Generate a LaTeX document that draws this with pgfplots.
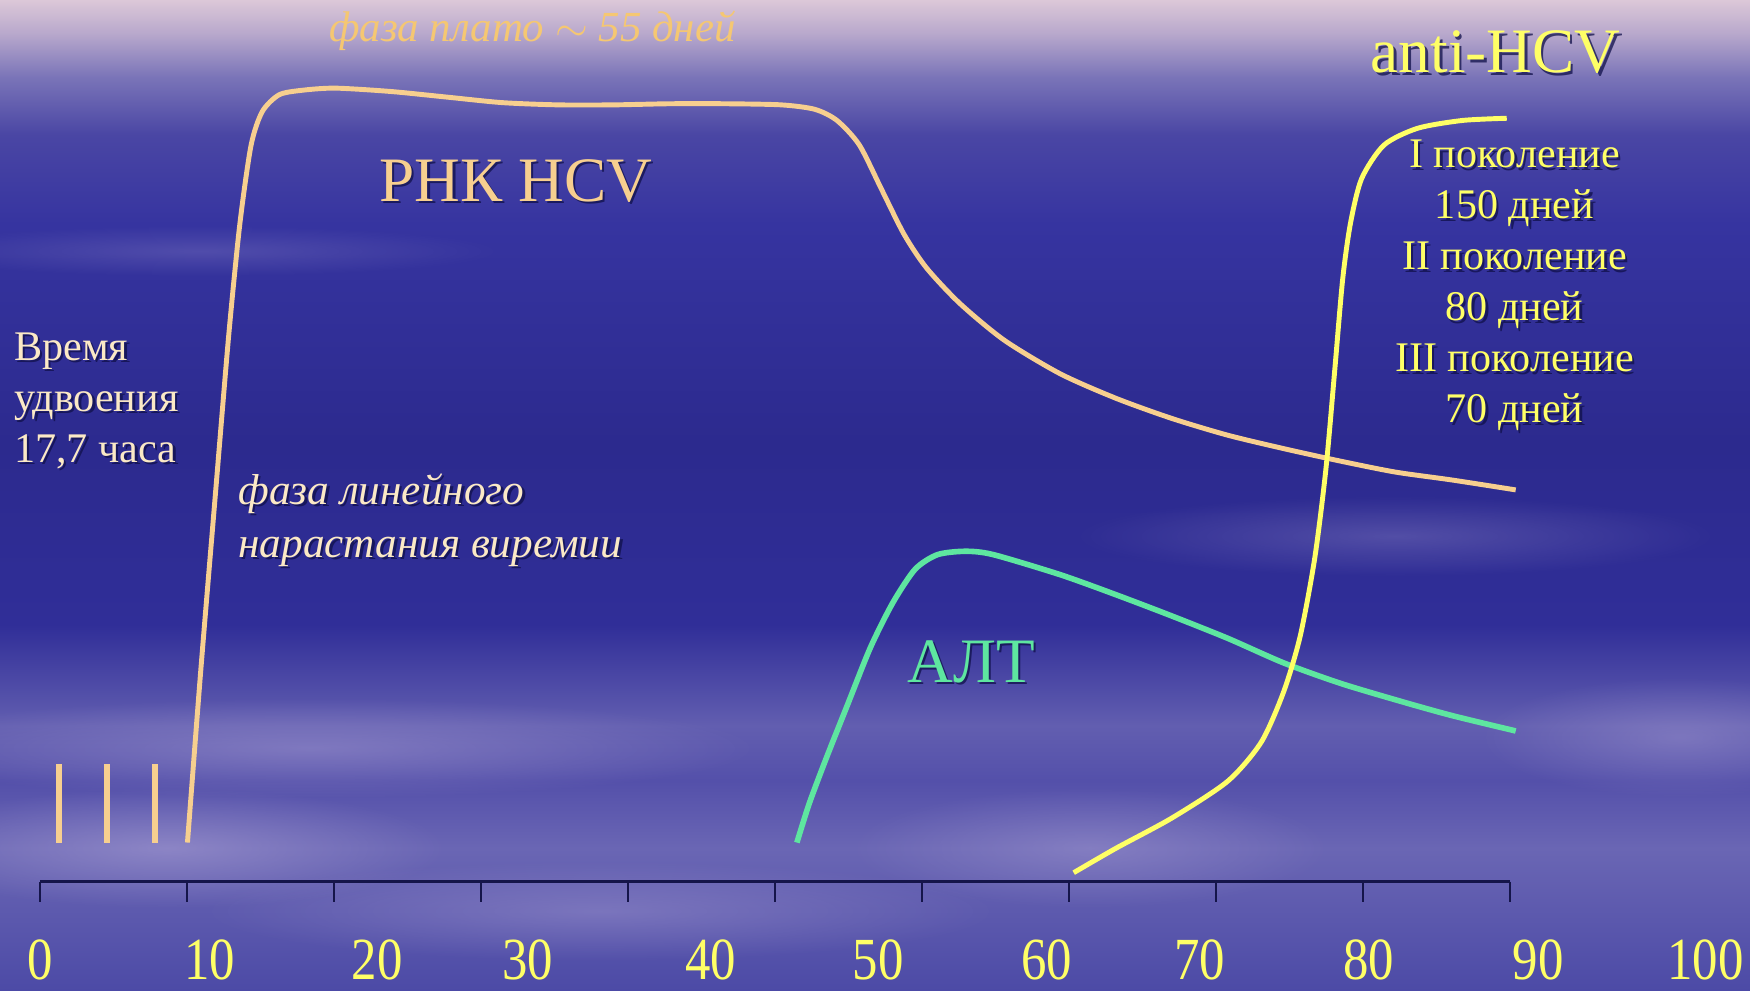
\documentclass[border=0pt]{standalone}
\usepackage{fontspec}
\setmainfont{Liberation Serif}
\usepackage{pgfplots}
\pgfplotsset{compat=1.18}
\usetikzlibrary{fadings}

\definecolor{rna}{HTML}{F7CF8F}
\definecolor{alt}{HTML}{5EE6A0}
\definecolor{anti}{HTML}{FFFF66}
\definecolor{navy}{HTML}{15154A}
\definecolor{plato}{HTML}{F5C772}
\definecolor{cream}{HTML}{FBE9C6}
\definecolor{cloud}{HTML}{C0B4E0}
\definecolor{shadow}{HTML}{10104A}

\definecolor{skyA}{HTML}{4C4AA6}
\definecolor{skyB}{HTML}{6A66B4}
\definecolor{skyC}{HTML}{5450AA}
\definecolor{skyD}{HTML}{625EB0}
\definecolor{skyE}{HTML}{302E98}
\definecolor{skyF}{HTML}{2C2A8E}
\definecolor{skyG}{HTML}{3634A0}
\definecolor{skyH}{HTML}{4A46A4}
\definecolor{skyI}{HTML}{7A74B8}
\definecolor{skyJ}{HTML}{B8A8CC}
\definecolor{skyK}{HTML}{DCC8D8}

% sky: bottom (25bp) to top (75bp)
\pgfdeclareverticalshading{sky}{100bp}{
  color(0bp)=(skyA);
  color(25bp)=(skyA);
  color(32.2bp)=(skyB);
  color(35.6bp)=(skyC);
  color(38.4bp)=(skyD);
  color(43.5bp)=(skyE);
  color(52.5bp)=(skyF);
  color(63.7bp)=(skyG);
  color(68.2bp)=(skyH);
  color(71.1bp)=(skyI);
  color(73.3bp)=(skyJ);
  color(75bp)=(skyK);
  color(100bp)=(skyK)}

\tikzfading[name=soft, inner color=transparent!0, outer color=transparent!100]

% text with a dark drop shadow
\newcommand\stext[3]{%
  \node[#1, text=shadow, opacity=0.75, xshift=0.7pt, yshift=-0.7pt] at (#2) {#3};
  \node[#1] at (#2) {#3};}

\begin{document}
\begin{tikzpicture}
\useasboundingbox (0,0) rectangle (175mm,99.1mm);
\shade[shading=sky] (0,0) rectangle (175mm,99.1mm);
% soft clouds
\foreach \cx/\cy/\rx/\ry/\op in {31/24.3/45/5/0.35, 16.7/14.3/28/6/0.4, 109/14.3/24/6/0.3,
    139.5/45.5/32/4/0.25, 168/25.4/20/6/0.3, 20/74/30/2.5/0.2, 60/8/40/5/0.3} {
  \fill[cloud, opacity=\op, path fading=soft]
    (\cx mm,\cy mm) ellipse ({\rx mm} and {\ry mm});
}

\begin{axis}[
    at={(0,0)}, anchor=south west,
    scale only axis, width=175mm, height=99.1mm,
    xmin=-2.733, xmax=116.32, ymin=-98, ymax=790,
    axis line style={draw=none},
    tick style={draw=none}, major tick length=0pt,
    ytick=\empty,
    xtick={0,11.54,22.93,33.18,45.63,57.02,68.49,78.89,90.36,101.90,113.29},
    xticklabels={0,10,20,30,40,50,60,70,80,90,100},
    xticklabel style={anchor=center, yshift=3.1mm, xscale=0.85, inner sep=0pt,
        font=\fontsize{17}{17}\selectfont, text=anti},
    clip=false,
]
% axis line and its ticks
\addplot[navy, line width=0.7pt] coordinates {(0,0) (100,0)};
\addplot[ycomb, navy, line width=0.4pt, mark=none] coordinates {
  (0,-18) (10,-18) (20,-18) (30,-18) (40,-18) (50,-18)
  (60,-18) (70,-18) (80,-18) (90,-18) (100,-18)};

% doubling marks
\addplot[rna, line width=1.6pt] coordinates {(1.29,35) (1.29,105)};
\addplot[rna, line width=1.6pt] coordinates {(4.56,35) (4.56,105)};
\addplot[rna, line width=1.6pt] coordinates {(7.82,35) (7.82,105)};

% RNA HCV
\addplot[rna, line width=1.4pt, smooth, tension=0.45] coordinates {
  (10.02,35) (10.93,190) (11.92,347) (12.83,490) (13.59,590) (14.35,660)
  (15.11,690) (16.25,705) (17.77,709) (20.05,711) (23.84,708) (27.64,703)
  (31.44,698) (35.23,696) (39.03,696) (42.82,697) (46.62,697) (50.42,696)
  (52.70,692) (54.21,682) (55.73,660) (57.25,620) (58.77,580) (60.29,550)
  (62.57,518) (65.60,485) (69.40,455) (73.20,433) (76.99,415) (80.79,400)
  (84.59,388) (88.38,377) (92.18,367) (95.98,360) (100.38,351)};

% ALT
\addplot[alt, line width=1.6pt, smooth, tension=0.45] coordinates {
  (51.48,35) (52.32,70) (53.46,110) (54.97,160) (56.49,210) (58.01,250)
  (59.53,280) (61.05,293) (62.95,296) (64.84,293) (69.40,275) (73.20,257)
  (76.99,238) (80.79,218) (84.59,196) (88.38,178) (92.18,163) (95.98,149)
  (100.38,135)};

% anti-HCV
\addplot[anti, line width=1.4pt, smooth, tension=0.45] coordinates {
  (70.31,8) (73.20,30) (76.99,57) (80.79,90) (83.07,125) (84.59,170)
  (85.72,220) (86.71,290) (87.47,370) (88.08,460) (88.61,540) (89.14,590)
  (89.90,630) (91.42,660) (93.70,675) (96.73,682) (99.77,684)};

% labels
\node[text=plato, font=\fontsize{12.2}{14}\itshape] at (axis cs:33.49,762) {фаза плато $\sim$ 55 дней};
\stext{text=anti, font=\fontsize{18}{20}\selectfont}{axis cs:99.01,743}{anti-HCV}
\stext{text=rna, font=\fontsize{18}{20}\selectfont}{axis cs:32.35,628}{РНК HCV}
\stext{text=alt, font=\fontsize{18}{20}\selectfont}{axis cs:63.33,197}{АЛТ}
\stext{text=anti, font=\fontsize{12}{14.5}\selectfont, align=center}{axis cs:100.3,534}
  {I поколение\\150 дней\\II поколение\\80 дней\\III поколение\\70 дней}
\stext{text=cream, font=\fontsize{12}{14.5}\selectfont, align=left, anchor=west, inner sep=0pt}
  {axis cs:-1.82,431}{Время\\удвоения\\17,7 часа}
\stext{text=cream, font=\fontsize{12.3}{15}\itshape, align=left, anchor=west, inner sep=0pt}
  {axis cs:13.44,324}{фаза линейного\\нарастания виремии}
\end{axis}
\end{tikzpicture}
\end{document}
